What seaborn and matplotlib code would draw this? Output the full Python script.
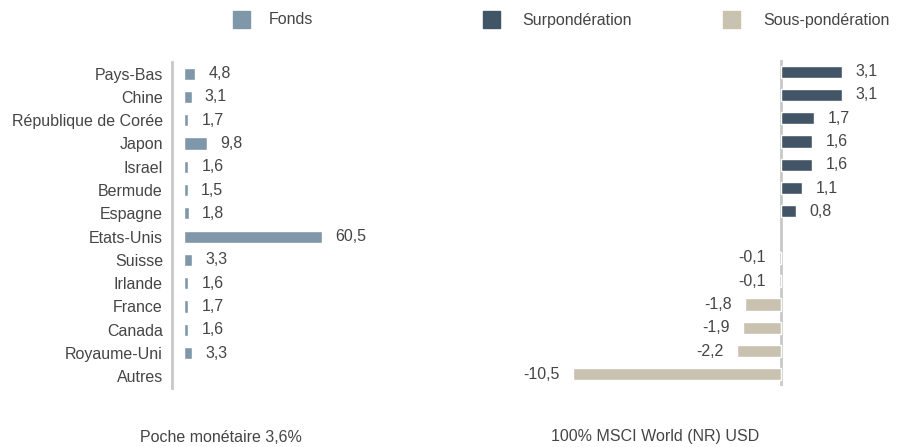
import pandas as pd
import seaborn as sns
import matplotlib.pyplot as plt
from matplotlib.patches import Rectangle

# Données
pays = ["Pays-Bas", "Chine", "République de Corée", "Japon", "Israel", "Bermude",
        "Espagne", "Etats-Unis", "Suisse", "Irlande", "France", "Canada",
        "Royaume-Uni", "Autres"]
fonds = [4.8, 3.1, 1.7, 9.8, 1.6, 1.5, 1.8, 60.5, 3.3, 1.6, 1.7, 1.6, 3.3, None]

ecarts = [3.1, 3.1, 1.7, 1.6, 1.6, 1.1, 0.8, None, -0.1, -0.1, -1.8, -1.9, -2.2, -10.5]

legende = ["Fonds", "Surpondération", "Sous-pondération"]
couleurs = ["#8097A9", "#415566", "#C9C2B1"]
texte_bas = ["Poche monétaire 3,6%", "100% MSCI World (NR) USD"]

gris = "#454545"
trait = "#C8C8C8"
taille = 11.5

sns.set_style("white")
plt.rcParams['font.family'] = ['Liberation Sans', 'DejaVu Sans']
plt.rcParams['font.size'] = taille

W, H = 904, 447
fig = plt.figure(figsize=(W / 100, H / 100), dpi=100)

def fx(px):
    return px / W

def fy(py):
    return 1 - py / H

# Graphique gauche : fonds
ax1 = fig.add_axes([fx(172), fy(388), fx(268), 326 / H])
df1 = pd.DataFrame({"pays": pays, "val": fonds}).dropna()
sns.barplot(data=df1, x="val", y="pays", order=pays, orient="h",
            color=couleurs[0], saturation=1, width=0.52, ax=ax1)
ax1.set_xlim(-5.5, -5.5 + 268 / 2.27)
ax1.set_ylim(13.5, -0.5)
for c in ax1.containers:
    ax1.bar_label(c, labels=[f"{v:.1f}".replace(".", ",") for v in df1["val"]],
                  padding=9.5, color=gris, fontsize=taille)
ax1.set_xlabel("")
ax1.set_ylabel("")
ax1.set_xticks([])
ax1.tick_params(axis="y", length=0, pad=6.5, colors=gris, labelsize=taille)
for s in ["top", "right", "bottom"]:
    ax1.spines[s].set_visible(False)
ax1.spines["left"].set_color(trait)
ax1.spines["left"].set_linewidth(2)

# Graphique droit : écarts
ax2 = fig.add_axes([fx(480), fy(386), fx(420), 326 / H])
rangs = [f"r{i}" for i in range(len(ecarts))]
df2 = pd.DataFrame({"rang": rangs, "val": ecarts}).dropna()
df2["type"] = ["Surpondération" if v > 0 else "Sous-pondération" for v in df2["val"]]
sns.barplot(data=df2, x="val", y="rang", order=rangs, hue="type",
            hue_order=legende[1:], palette=couleurs[1:], orient="h",
            dodge=False, saturation=1, width=0.52, legend=False, ax=ax2)
ax2.set_xlim(-15.18, 6.03)
ax2.set_ylim(13.5, -0.5)
ax2.axvline(0, color=trait, lw=2, zorder=0)
for c, grp in zip(ax2.containers, legende[1:]):
    vals = df2[df2["type"] == grp]["val"]
    ax2.bar_label(c, labels=[f"{v:.1f}".replace(".", ",") for v in vals],
                  padding=9.5, color=gris, fontsize=taille)
ax2.set_xlabel("")
ax2.set_ylabel("")
ax2.set_xticks([])
ax2.set_yticks([])
for s in ax2.spines.values():
    s.set_visible(False)

# Légende
for (x0, xt), nom, col in zip([(233, 269), (483, 522), (723, 763)], legende, couleurs):
    fig.patches.append(Rectangle((fx(x0), fy(28)), fx(17), 17 / H,
                                 transform=fig.transFigure, color=col))
    fig.text(fx(xt), fy(20), nom, ha="left", va="center", color=gris, fontsize=taille)

# Textes du bas
fig.text(fx(221), fy(437), texte_bas[0], ha="center", va="center", color=gris, fontsize=taille)
fig.text(fx(655), fy(437), texte_bas[1], ha="center", va="center", color=gris, fontsize=taille)

fig.savefig("out.png", dpi=100)
